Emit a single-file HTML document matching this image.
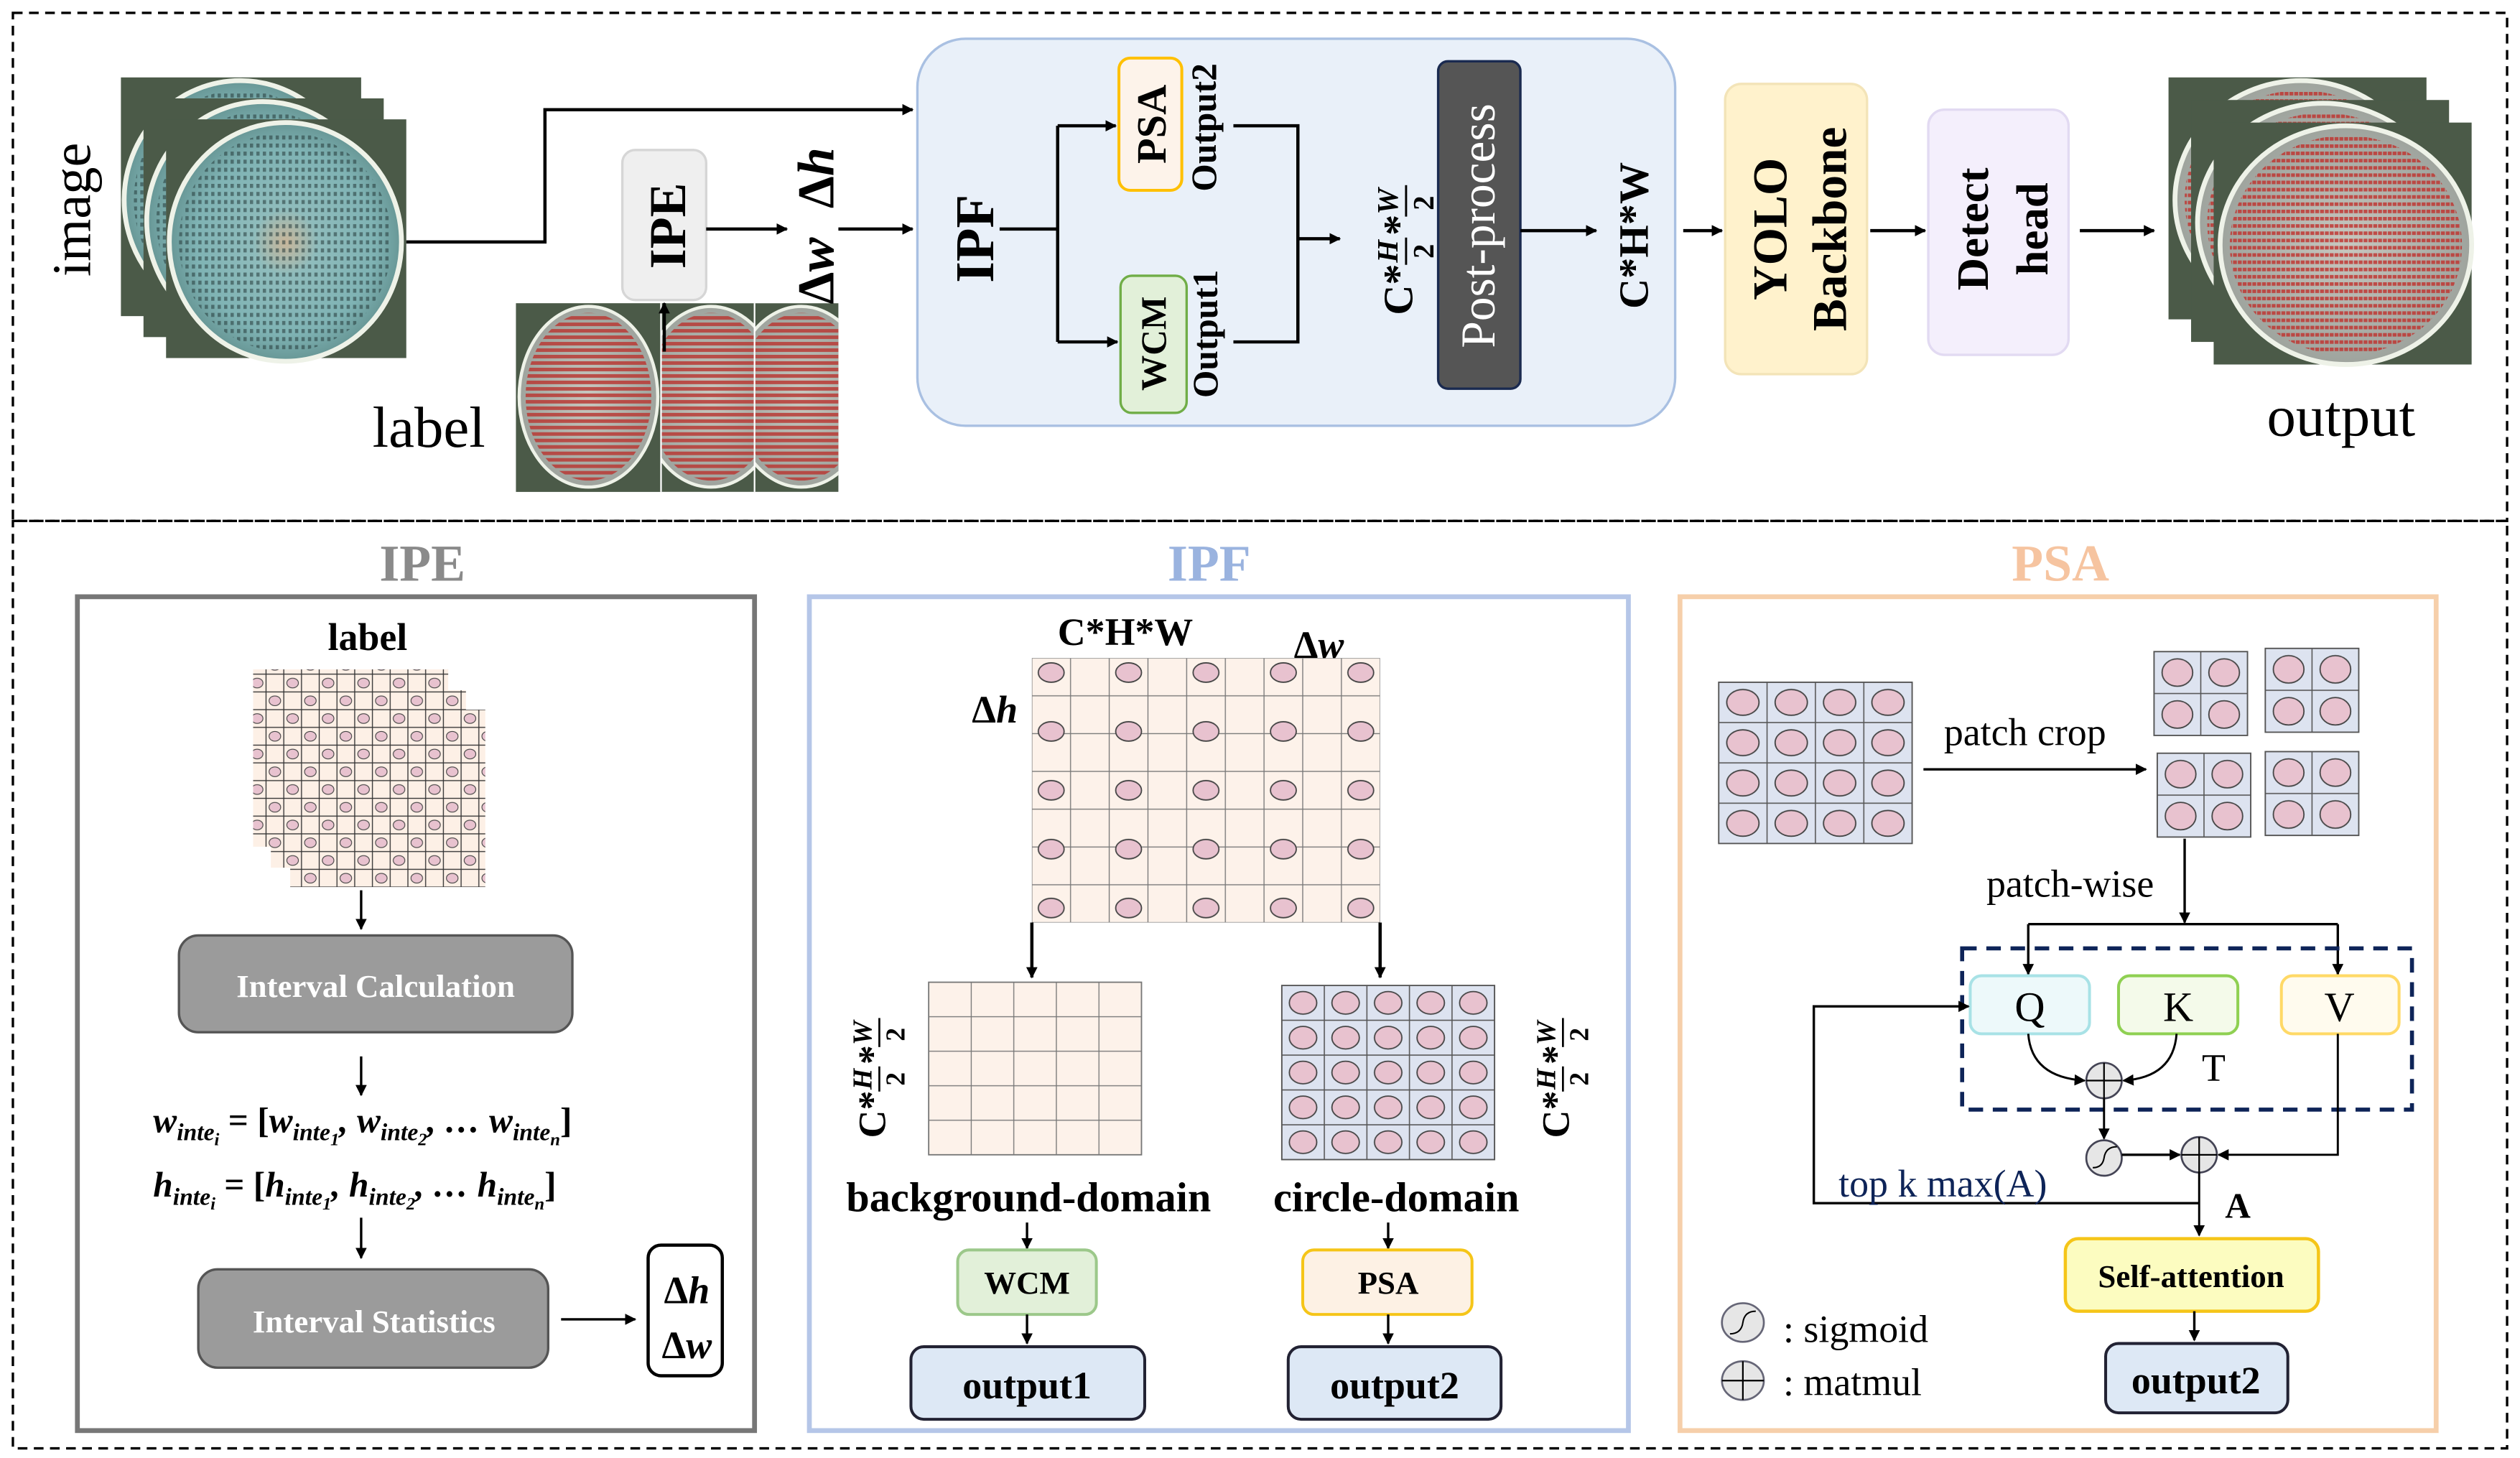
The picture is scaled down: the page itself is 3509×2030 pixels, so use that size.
<!DOCTYPE html>
<html><head><meta charset="utf-8">
<style>
html,body{margin:0;padding:0;background:#fff;}
svg{display:block;}
text{font-family:"Liberation Serif",serif;}
</style></head>
<body>
<svg width="3509" height="2030" viewBox="0 0 1563 904" preserveAspectRatio="none" xmlns="http://www.w3.org/2000/svg">
<defs>
  <marker id="ar" viewBox="0 0 10 10" refX="9" refY="5" markerWidth="7" markerHeight="7" orient="auto-start-reverse" markerUnits="userSpaceOnUse"><path d="M0,0 L10,5 L0,10 z" fill="#000"/></marker>
  <radialGradient id="teal" cx="50%" cy="50%" r="55%">
    <stop offset="0" stop-color="#c9b69a"/><stop offset="0.25" stop-color="#8fbcbc"/><stop offset="0.7" stop-color="#7fb3b4"/><stop offset="1" stop-color="#5d8a88"/>
  </radialGradient>
  <radialGradient id="gray" cx="50%" cy="50%" r="55%">
    <stop offset="0" stop-color="#c8c8c0"/><stop offset="1" stop-color="#9aa09a"/>
  </radialGradient>
  <pattern id="dots" patternUnits="userSpaceOnUse" width="4" height="5"><rect width="2" height="2.5" fill="#253a3a"/></pattern>
  <pattern id="reddots" patternUnits="userSpaceOnUse" width="3" height="4.5"><rect width="2.4" height="2.2" fill="#c0302c"/></pattern>
  <pattern id="redstripes" patternUnits="userSpaceOnUse" width="4" height="4"><rect width="4" height="2.2" fill="#b83a35"/></pattern>
  <pattern id="ipeg" patternUnits="userSpaceOnUse" width="11" height="11"><rect width="11" height="11" fill="#fdf0e6" stroke="#333" stroke-width="0.6"/></pattern>
  <pattern id="ipec" patternUnits="userSpaceOnUse" width="22" height="22"><ellipse cx="5.5" cy="5.5" rx="3.6" ry="3" fill="#e8c2cf" stroke="#444" stroke-width="0.5"/><ellipse cx="16.5" cy="16.5" rx="3.6" ry="3" fill="#e8c2cf" stroke="#444" stroke-width="0.5"/></pattern>
  <pattern id="ipfg" patternUnits="userSpaceOnUse" x="640" y="408" width="24" height="23.43"><rect width="24" height="23.43" fill="#fdf2ea" stroke="#777" stroke-width="0.6"/></pattern>
  <pattern id="ipfc" patternUnits="userSpaceOnUse" x="640" y="399" width="48" height="36.5"><ellipse cx="12" cy="18" rx="8" ry="6" fill="#e8c2cf" stroke="#444" stroke-width="0.8"/></pattern>
  <pattern id="bgg" patternUnits="userSpaceOnUse" x="576" y="609" width="26.4" height="21.4"><rect width="26.4" height="21.4" fill="#fdf2ea" stroke="#777" stroke-width="0.6"/></pattern>
  <pattern id="cg" patternUnits="userSpaceOnUse" x="795" y="611" width="26.4" height="21.6"><rect width="26.4" height="21.6" fill="#dde3f0" stroke="#555" stroke-width="0.7"/><ellipse cx="13.2" cy="10.8" rx="8.5" ry="7" fill="#e8c2cf" stroke="#444" stroke-width="0.8"/></pattern>
  <pattern id="pg" patternUnits="userSpaceOnUse" x="1066" y="423" width="30" height="25"><rect width="30" height="25" fill="#dde3f0" stroke="#555" stroke-width="0.7"/><ellipse cx="15" cy="12.5" rx="10" ry="8" fill="#e8c2cf" stroke="#444" stroke-width="0.8"/></pattern>
  <pattern id="pp" patternUnits="userSpaceOnUse" width="29" height="26"><rect width="29" height="26" fill="#dde3f0" stroke="#555" stroke-width="0.7"/><ellipse cx="14.5" cy="13" rx="9.5" ry="8.5" fill="#e8c2cf" stroke="#444" stroke-width="0.8"/></pattern>
  <g id="photo">
    <rect width="149" height="148" fill="#4b5a48"/>
    <ellipse cx="74" cy="76" rx="72" ry="74" fill="url(#teal)" stroke="#eef2e8" stroke-width="3"/>
    <ellipse cx="74" cy="76" rx="66" ry="68" fill="url(#dots)" opacity="0.55"/>
  </g>
  <g id="ophoto">
    <rect width="160" height="150" fill="#4b5a48"/>
    <ellipse cx="82" cy="76" rx="78" ry="74" fill="url(#gray)" stroke="#eef2e8" stroke-width="3"/>
    <ellipse cx="82" cy="76" rx="72" ry="68" fill="url(#reddots)" opacity="0.8"/>
  </g>
  <g id="lphoto">
    <rect width="90" height="117" fill="#4b5a48"/>
    <ellipse cx="45" cy="58" rx="43" ry="56" fill="url(#gray)" stroke="#eef2e8" stroke-width="2"/>
    <ellipse cx="45" cy="58" rx="39" ry="52" fill="url(#redstripes)" opacity="0.85"/>
  </g>
  <clipPath id="c2"><rect x="410" y="188" width="58" height="117"/></clipPath>
  <clipPath id="c3"><rect x="468" y="188" width="52" height="117"/></clipPath>
  <g id="frac">
    <text x="-38" y="0" font-size="20">C*</text>
    <text x="-13" y="-7" font-size="14" font-style="italic">H</text>
    <line x1="-14" y1="-3" x2="-1" y2="-3" stroke="#000" stroke-width="1"/>
    <text x="-11" y="10" font-size="14">2</text>
    <text x="0" y="0" font-size="20">*</text>
    <text x="10" y="-7" font-size="14" font-style="italic">W</text>
    <line x1="9" y1="-3" x2="24" y2="-3" stroke="#000" stroke-width="1"/>
    <text x="12" y="10" font-size="14">2</text>
  </g>
</defs>

<rect x="8" y="8" width="1547" height="315" fill="none" stroke="#000" stroke-width="1.5" stroke-dasharray="6,4"/>
<rect x="8" y="323" width="1547" height="575" fill="none" stroke="#000" stroke-width="1.5" stroke-dasharray="6,4"/>

<!-- ===== TOP ===== -->
<use href="#photo" x="75" y="48"/>
<use href="#photo" x="89" y="61"/>
<use href="#photo" x="103" y="74"/>
<text transform="translate(56,130) rotate(-90)" font-size="34" text-anchor="middle">image</text>
<text x="266" y="277" font-size="36" text-anchor="middle">label</text>

<use href="#lphoto" x="320" y="188"/>
<g clip-path="url(#c2)"><use href="#lphoto" x="396" y="188"/></g>
<g clip-path="url(#c3)"><use href="#lphoto" x="452" y="188"/></g>
<line x1="410" y1="188" x2="410" y2="305" stroke="#fff" stroke-width="1"/>
<line x1="468" y1="188" x2="468" y2="305" stroke="#fff" stroke-width="1"/>

<rect x="386" y="93" width="52" height="93" rx="8" fill="#efefef" stroke="#d6d6d6" stroke-width="1.5"/>
<text transform="translate(425,140) rotate(-90)" font-size="32" font-weight="bold" text-anchor="middle">IPE</text>
<line x1="412" y1="218" x2="412" y2="188" stroke="#000" stroke-width="2" marker-end="url(#ar)"/>
<line x1="438" y1="142" x2="488" y2="142" stroke="#000" stroke-width="2" marker-end="url(#ar)"/>
<text transform="translate(517,140) rotate(-90)" font-size="32" font-weight="bold" text-anchor="middle"><tspan>Δ</tspan><tspan font-style="italic">w</tspan><tspan dx="18">Δ</tspan><tspan font-style="italic">h</tspan></text>
<line x1="520" y1="142" x2="566" y2="142" stroke="#000" stroke-width="2" marker-end="url(#ar)"/>
<polyline points="252,150 338,150 338,68 566,68" fill="none" stroke="#000" stroke-width="2" marker-end="url(#ar)"/>

<rect x="569" y="24" width="470" height="240" rx="30" fill="#e9f0f9" stroke="#a9c0e2" stroke-width="1.5"/>
<text transform="translate(616,148) rotate(-90)" font-size="34" font-weight="bold" text-anchor="middle">IPF</text>
<line x1="620" y1="142" x2="656" y2="142" stroke="#000" stroke-width="2"/>
<line x1="656" y1="78" x2="656" y2="212" stroke="#000" stroke-width="2"/>
<line x1="656" y1="78" x2="692" y2="78" stroke="#000" stroke-width="2" marker-end="url(#ar)"/>
<line x1="656" y1="212" x2="693" y2="212" stroke="#000" stroke-width="2" marker-end="url(#ar)"/>
<rect x="694" y="36" width="39" height="82" rx="7" fill="#fdf3ea" stroke="#ffc000" stroke-width="1.8"/>
<text transform="translate(723,77) rotate(-90)" font-size="26" font-weight="bold" text-anchor="middle">PSA</text>
<rect x="695" y="171" width="41" height="85" rx="7" fill="#e2f0d9" stroke="#70ad47" stroke-width="1.5"/>
<text transform="translate(723,213) rotate(-90)" font-size="22" font-weight="bold" text-anchor="middle">WCM</text>
<text transform="translate(754,79) rotate(-90)" font-size="22" font-weight="bold" text-anchor="middle">Output2</text>
<text transform="translate(755,207) rotate(-90)" font-size="22" font-weight="bold" text-anchor="middle">Output1</text>
<polyline points="765,78 805,78 805,212 765,212" fill="none" stroke="#000" stroke-width="2"/>
<line x1="805" y1="148" x2="831" y2="148" stroke="#000" stroke-width="2" marker-end="url(#ar)"/>
<g transform="translate(876,146) rotate(-90) scale(1.3)" font-weight="bold"><use href="#frac"/></g>
<rect x="892" y="38" width="51" height="203" rx="6" fill="#555" stroke="#1a2a50" stroke-width="1.5"/>
<text transform="translate(927,140) rotate(-90)" font-size="30" fill="#fff" text-anchor="middle">Post-process</text>
<line x1="943" y1="143" x2="990" y2="143" stroke="#000" stroke-width="2" marker-end="url(#ar)"/>
<text transform="translate(1022,146) rotate(-90)" font-size="26" font-weight="bold" text-anchor="middle">C*H*W</text>
<line x1="1044" y1="143" x2="1068" y2="143" stroke="#000" stroke-width="2" marker-end="url(#ar)"/>
<rect x="1070" y="52" width="88" height="180" rx="10" fill="#fff2cc" stroke="#f3e4b8" stroke-width="1.5"/>
<text transform="translate(1108,142) rotate(-90)" font-size="30" font-weight="bold" text-anchor="middle">YOLO</text>
<text transform="translate(1145,142) rotate(-90)" font-size="30" font-weight="bold" text-anchor="middle">Backbone</text>
<line x1="1160" y1="143" x2="1194" y2="143" stroke="#000" stroke-width="2" marker-end="url(#ar)"/>
<rect x="1196" y="68" width="87" height="152" rx="10" fill="#f4effc" stroke="#e2daf2" stroke-width="1.5"/>
<text transform="translate(1233,142) rotate(-90)" font-size="28" font-weight="bold" text-anchor="middle">Detect</text>
<text transform="translate(1270,142) rotate(-90)" font-size="28" font-weight="bold" text-anchor="middle">head</text>
<line x1="1290" y1="143" x2="1336" y2="143" stroke="#000" stroke-width="2" marker-end="url(#ar)"/>
<use href="#ophoto" x="1345" y="48"/>
<use href="#ophoto" x="1359" y="62"/>
<use href="#ophoto" x="1373" y="76"/>
<text x="1452" y="270" font-size="36" text-anchor="middle">output</text>

<!-- ===== IPE panel ===== -->
<text x="262" y="360" font-size="32" font-weight="bold" fill="#8a8a8a" text-anchor="middle">IPE</text>
<rect x="48" y="370" width="420" height="517" fill="none" stroke="#777" stroke-width="3"/>
<text x="228" y="403" font-size="24" font-weight="bold" text-anchor="middle">label</text>
<rect x="157" y="415" width="121" height="110" fill="url(#ipeg)"/><rect x="157" y="415" width="121" height="110" fill="url(#ipec)"/>
<rect x="168" y="428" width="121" height="110" fill="url(#ipeg)"/><rect x="168" y="428" width="121" height="110" fill="url(#ipec)"/>
<rect x="180" y="440" width="121" height="110" fill="url(#ipeg)"/><rect x="180" y="440" width="121" height="110" fill="url(#ipec)"/>
<line x1="224" y1="552" x2="224" y2="576" stroke="#000" stroke-width="1.5" marker-end="url(#ar)"/>
<rect x="111" y="580" width="244" height="60" rx="12" fill="#9b9b9b" stroke="#555" stroke-width="1.5"/>
<text x="233" y="618" font-size="20" font-weight="bold" fill="#fff" text-anchor="middle">Interval Calculation</text>
<line x1="224" y1="655" x2="224" y2="679" stroke="#000" stroke-width="1.5" marker-end="url(#ar)"/>
<text x="95" y="702" font-size="22" font-weight="bold" font-style="italic">w<tspan font-size="15" dy="5">inte<tspan font-size="11" dy="3">i</tspan></tspan><tspan dy="-8" font-style="normal"> = [</tspan>w<tspan font-size="15" dy="5">inte<tspan font-size="11" dy="3">1</tspan></tspan><tspan dy="-8">, </tspan>w<tspan font-size="15" dy="5">inte<tspan font-size="11" dy="3">2</tspan></tspan><tspan dy="-8">, … </tspan>w<tspan font-size="15" dy="5">inte<tspan font-size="11" dy="3">n</tspan></tspan><tspan dy="-8" font-style="normal">]</tspan></text>
<text x="95" y="742" font-size="22" font-weight="bold" font-style="italic">h<tspan font-size="15" dy="5">inte<tspan font-size="11" dy="3">i</tspan></tspan><tspan dy="-8" font-style="normal"> = [</tspan>h<tspan font-size="15" dy="5">inte<tspan font-size="11" dy="3">1</tspan></tspan><tspan dy="-8">, </tspan>h<tspan font-size="15" dy="5">inte<tspan font-size="11" dy="3">2</tspan></tspan><tspan dy="-8">, … </tspan>h<tspan font-size="15" dy="5">inte<tspan font-size="11" dy="3">n</tspan></tspan><tspan dy="-8" font-style="normal">]</tspan></text>
<line x1="224" y1="755" x2="224" y2="780" stroke="#000" stroke-width="1.5" marker-end="url(#ar)"/>
<rect x="123" y="787" width="217" height="61" rx="12" fill="#9b9b9b" stroke="#555" stroke-width="1.5"/>
<text x="232" y="826" font-size="20" font-weight="bold" fill="#fff" text-anchor="middle">Interval Statistics</text>
<line x1="348" y1="818" x2="394" y2="818" stroke="#000" stroke-width="1.5" marker-end="url(#ar)"/>
<rect x="402" y="772" width="46" height="81" rx="8" fill="#fff" stroke="#000" stroke-width="2"/>
<text x="426" y="808" font-size="24" font-weight="bold" text-anchor="middle">Δ<tspan font-style="italic">h</tspan></text>
<text x="426" y="842" font-size="24" font-weight="bold" text-anchor="middle">Δ<tspan font-style="italic">w</tspan></text>

<!-- ===== IPF panel ===== -->
<text x="750" y="360" font-size="32" font-weight="bold" fill="#9ab3df" text-anchor="middle">IPF</text>
<rect x="502" y="370" width="508" height="517" fill="none" stroke="#b5c6e8" stroke-width="3"/>
<text x="698" y="400" font-size="24" font-weight="bold" text-anchor="middle">C*H*W</text>
<text x="818" y="408" font-size="24" font-weight="bold" text-anchor="middle">Δ<tspan font-style="italic">w</tspan></text>
<text x="617" y="448" font-size="24" font-weight="bold" text-anchor="middle">Δ<tspan font-style="italic">h</tspan></text>
<rect x="640" y="408" width="216" height="164" fill="url(#ipfg)"/>
<rect x="640" y="408" width="216" height="164" fill="url(#ipfc)"/>
<line x1="640" y1="572" x2="640" y2="606" stroke="#000" stroke-width="2" marker-end="url(#ar)"/>
<line x1="856" y1="572" x2="856" y2="606" stroke="#000" stroke-width="2" marker-end="url(#ar)"/>
<rect x="576" y="609" width="132" height="107" fill="url(#bgg)" stroke="#777" stroke-width="0.8"/>
<rect x="795" y="611" width="132" height="108" fill="url(#cg)" stroke="#555" stroke-width="0.8"/>
<g font-weight="bold">
<g transform="translate(549,660) rotate(-90) scale(1.2)"><use href="#frac"/></g>
<g transform="translate(973,660) rotate(-90) scale(1.2)"><use href="#frac"/></g>
</g>
<text x="638" y="751" font-size="26" font-weight="bold" text-anchor="middle">background-domain</text>
<text x="866" y="751" font-size="26" font-weight="bold" text-anchor="middle">circle-domain</text>
<line x1="637" y1="758" x2="637" y2="774" stroke="#000" stroke-width="1.5" marker-end="url(#ar)"/>
<rect x="594" y="775" width="86" height="40" rx="7" fill="#e2f0d9" stroke="#9cc88a" stroke-width="1.8"/>
<text x="637" y="802" font-size="20" font-weight="bold" text-anchor="middle">WCM</text>
<line x1="637" y1="815" x2="637" y2="833" stroke="#000" stroke-width="1.5" marker-end="url(#ar)"/>
<rect x="565" y="835" width="145" height="45" rx="8" fill="#dde8f5" stroke="#223" stroke-width="1.8"/>
<text x="637" y="867" font-size="24" font-weight="bold" text-anchor="middle">output1</text>
<line x1="861" y1="758" x2="861" y2="774" stroke="#000" stroke-width="1.5" marker-end="url(#ar)"/>
<rect x="808" y="775" width="105" height="40" rx="7" fill="#fdf1e4" stroke="#f5c518" stroke-width="1.8"/>
<text x="861" y="802" font-size="20" font-weight="bold" text-anchor="middle">PSA</text>
<line x1="861" y1="815" x2="861" y2="833" stroke="#000" stroke-width="1.5" marker-end="url(#ar)"/>
<rect x="799" y="835" width="132" height="45" rx="8" fill="#dde8f5" stroke="#223" stroke-width="1.8"/>
<text x="865" y="867" font-size="24" font-weight="bold" text-anchor="middle">output2</text>

<!-- ===== PSA panel ===== -->
<text x="1278" y="360" font-size="32" font-weight="bold" fill="#f6c4a0" text-anchor="middle">PSA</text>
<rect x="1042" y="370" width="469" height="517" fill="none" stroke="#f6cfaa" stroke-width="3"/>
<rect x="1066" y="423" width="120" height="100" fill="url(#pg)" stroke="#555" stroke-width="0.8"/>
<text x="1256" y="462" font-size="24" text-anchor="middle">patch crop</text>
<line x1="1193" y1="477" x2="1331" y2="477" stroke="#000" stroke-width="1.5" marker-end="url(#ar)"/>
<g transform="translate(1336,404)"><rect width="58" height="52" fill="url(#pp)" stroke="#555" stroke-width="0.8"/></g>
<g transform="translate(1405,402)"><rect width="58" height="52" fill="url(#pp)" stroke="#555" stroke-width="0.8"/></g>
<g transform="translate(1338,467)"><rect width="58" height="52" fill="url(#pp)" stroke="#555" stroke-width="0.8"/></g>
<g transform="translate(1405,466)"><rect width="58" height="52" fill="url(#pp)" stroke="#555" stroke-width="0.8"/></g>
<text x="1284" y="556" font-size="24" text-anchor="middle">patch-wise</text>
<line x1="1355" y1="520" x2="1355" y2="572" stroke="#000" stroke-width="1.5" marker-end="url(#ar)"/>
<line x1="1258" y1="573" x2="1450" y2="573" stroke="#000" stroke-width="1.5"/>
<line x1="1258" y1="573" x2="1258" y2="604" stroke="#000" stroke-width="1.5" marker-end="url(#ar)"/>
<line x1="1450" y1="573" x2="1450" y2="604" stroke="#000" stroke-width="1.5" marker-end="url(#ar)"/>
<rect x="1217" y="588" width="279" height="100" fill="none" stroke="#0e2458" stroke-width="2.5" stroke-dasharray="9,6"/>
<rect x="1222" y="605" width="74" height="36" rx="7" fill="#edf9fa" stroke="#a8e2e6" stroke-width="1.8"/>
<text x="1259" y="633" font-size="26" text-anchor="middle">Q</text>
<rect x="1314" y="605" width="74" height="36" rx="7" fill="#f4faea" stroke="#8fd052" stroke-width="1.8"/>
<text x="1351" y="633" font-size="26" text-anchor="middle">K</text>
<rect x="1415" y="605" width="73" height="36" rx="7" fill="#fffbee" stroke="#ffd966" stroke-width="1.8"/>
<text x="1451" y="633" font-size="26" text-anchor="middle">V</text>
<path d="M1258,641 Q1260,668 1293,670" fill="none" stroke="#000" stroke-width="1.3" marker-end="url(#ar)"/>
<path d="M1350,641 Q1348,668 1317,670" fill="none" stroke="#000" stroke-width="1.3" marker-end="url(#ar)"/>
<text x="1373" y="670" font-size="24" text-anchor="middle">T</text>
<ellipse cx="1305" cy="670" rx="11" ry="11" fill="#e6e6e6" stroke="#445" stroke-width="1.2"/>
<line x1="1294" y1="670" x2="1316" y2="670" stroke="#000" stroke-width="1"/><line x1="1305" y1="659" x2="1305" y2="681" stroke="#000" stroke-width="1"/>
<line x1="1305" y1="681" x2="1305" y2="706" stroke="#000" stroke-width="1.3" marker-end="url(#ar)"/>
<ellipse cx="1305" cy="718" rx="11" ry="11" fill="#e6e6e6" stroke="#445" stroke-width="1.2"/>
<path d="M1298,724 Q1304,724 1305,718 Q1306,711 1313,711" fill="none" stroke="#000" stroke-width="0.9"/>
<line x1="1316" y1="716" x2="1352" y2="716" stroke="#000" stroke-width="1.5" marker-end="url(#ar)"/>
<ellipse cx="1364" cy="716" rx="11" ry="11" fill="#e6e6e6" stroke="#445" stroke-width="1.2"/>
<line x1="1353" y1="716" x2="1375" y2="716" stroke="#000" stroke-width="1"/><line x1="1364" y1="705" x2="1364" y2="727" stroke="#000" stroke-width="1"/>
<polyline points="1450,641 1450,716 1376,716" fill="none" stroke="#000" stroke-width="1.3" marker-end="url(#ar)"/>
<line x1="1364" y1="727" x2="1364" y2="766" stroke="#000" stroke-width="1.3" marker-end="url(#ar)"/>
<polyline points="1364,746 1125,746 1125,624 1221,624" fill="none" stroke="#000" stroke-width="1.5" marker-end="url(#ar)"/>
<text x="1205" y="742" font-size="24" fill="#0e2458" text-anchor="middle">top k max(A)</text>
<text x="1388" y="755" font-size="22" font-weight="bold" text-anchor="middle">A</text>
<rect x="1281" y="768" width="157" height="45" rx="8" fill="#fcfcc0" stroke="#f5c518" stroke-width="2"/>
<text x="1359" y="798" font-size="20" font-weight="bold" text-anchor="middle">Self-attention</text>
<line x1="1361" y1="813" x2="1361" y2="831" stroke="#000" stroke-width="1.5" marker-end="url(#ar)"/>
<rect x="1306" y="833" width="113" height="43" rx="8" fill="#dde8f5" stroke="#223" stroke-width="1.8"/>
<text x="1362" y="864" font-size="24" font-weight="bold" text-anchor="middle">output2</text>
<ellipse cx="1081" cy="820" rx="13" ry="12" fill="#e6e6e6" stroke="#667" stroke-width="1.2"/>
<path d="M1073,827 Q1080,827 1081,820 Q1082,813 1089,813" fill="none" stroke="#000" stroke-width="0.9"/>
<text x="1106" y="832" font-size="24">: sigmoid</text>
<ellipse cx="1081" cy="856" rx="13" ry="12" fill="#e6e6e6" stroke="#667" stroke-width="1.2"/>
<line x1="1068" y1="856" x2="1094" y2="856" stroke="#000" stroke-width="1"/><line x1="1081" y1="844" x2="1081" y2="868" stroke="#000" stroke-width="1"/>
<text x="1106" y="865" font-size="24">: matmul</text>
</svg>
</body></html>
